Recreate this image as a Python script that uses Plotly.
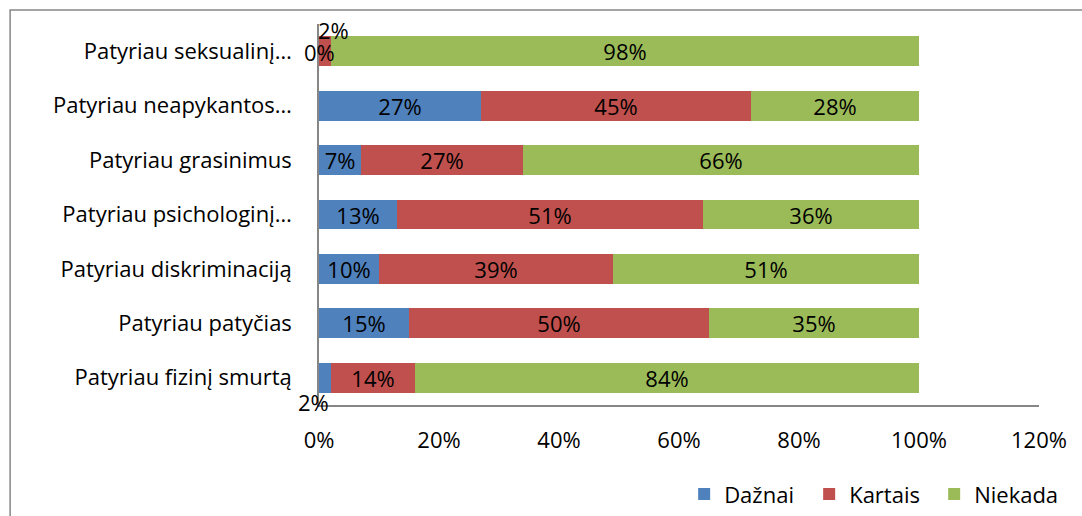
import plotly.graph_objects as go

# Survey categories, listed top to bottom as shown on the chart
categories = [
    "Patyriau seksualinį…",
    "Patyriau neapykantos…",
    "Patyriau grasinimus",
    "Patyriau psichologinį…",
    "Patyriau diskriminaciją",
    "Patyriau patyčias",
    "Patyriau fizinį smurtą",
]

# Share of respondents per answer (percent)
daznai = [0, 27, 7, 13, 10, 15, 2]
kartais = [2, 45, 27, 51, 39, 50, 14]
niekada = [98, 28, 66, 36, 51, 35, 84]

series_names = ["Dažnai", "Kartais", "Niekada"]
series_colors = ["#4F81BD", "#C0504D", "#9BBB59"]

x_ticks = [0, 20, 40, 60, 80, 100, 120]
x_tick_labels = ["0%", "20%", "40%", "60%", "80%", "100%", "120%"]

FONT = "Open Sans"
FS = 22
AXIS_GREY = "#868686"

fig = go.Figure()
for name, vals, color in zip(series_names, [daznai, kartais, niekada], series_colors):
    fig.add_trace(go.Bar(
        y=categories,
        x=vals,
        name=name,
        orientation="h",
        marker=dict(color=color, line=dict(width=0)),
        text=[f"{v}%" if v >= 5 else "" for v in vals],
        textposition="inside",
        insidetextanchor="middle",
        textfont=dict(family=FONT, size=FS, color="black"),
        hoverinfo="skip",
    ))

# Labels of the very thin segments are placed next to their bars
small_labels = []
for i, cat in enumerate(categories):
    start = 0
    for k, vals in enumerate([daznai, kartais, niekada]):
        v = vals[i]
        if v < 5:
            small_labels.append((cat, start + v / 2, v, k, i))
        start += v

for cat, xc, v, k, i in small_labels:
    if i == 0 and k == 0:
        xs, ys = 0, -1
    elif i == 0:
        xs, ys = 8, 21
    else:
        xs, ys = -12, -24
    fig.add_annotation(
        x=xc, y=cat, text=f"{v}%", showarrow=False,
        xshift=xs, yshift=ys, borderpad=0,
        font=dict(family=FONT, size=FS, color="black"),
    )

# Outer chart frame
fig.add_shape(
    type="rect", xref="paper", yref="paper",
    x0=-0.429, x1=2.0, y0=-2.0, y1=1.037,
    line=dict(color=AXIS_GREY, width=1.5), fillcolor="rgba(0,0,0,0)",
    layer="below",
)

fig.update_layout(
    width=1082, height=516,
    barmode="stack",
    bargap=0.45,
    plot_bgcolor="white",
    paper_bgcolor="white",
    margin=dict(l=319, r=43, t=24, b=111, autoexpand=False),
    font=dict(family=FONT, size=FS, color="black"),
    uniformtext=dict(minsize=FS, mode="show"),
    showlegend=True,
    legend=dict(
        orientation="h",
        x=1.028, xanchor="right",
        y=-0.234, yanchor="middle",
        font=dict(family=FONT, size=FS, color="black"),
        entrywidth=80, entrywidthmode="pixels",
        traceorder="normal",
        bgcolor="rgba(0,0,0,0)",
    ),
    xaxis=dict(
        range=[0, 120],
        tickvals=x_ticks,
        ticktext=x_tick_labels,
        showgrid=False,
        zeroline=False,
        showline=True,
        linecolor=AXIS_GREY,
        linewidth=1.5,
        ticks="",
        ticklabelstandoff=15,
        tickfont=dict(family=FONT, size=FS, color="black"),
        fixedrange=True,
    ),
    yaxis=dict(
        autorange="reversed",
        showgrid=False,
        zeroline=False,
        showline=True,
        linecolor=AXIS_GREY,
        linewidth=1.5,
        ticks="",
        ticklabelstandoff=21,
        tickfont=dict(family=FONT, size=FS, color="black"),
        fixedrange=True,
    ),
)

fig.write_html("out.html")
